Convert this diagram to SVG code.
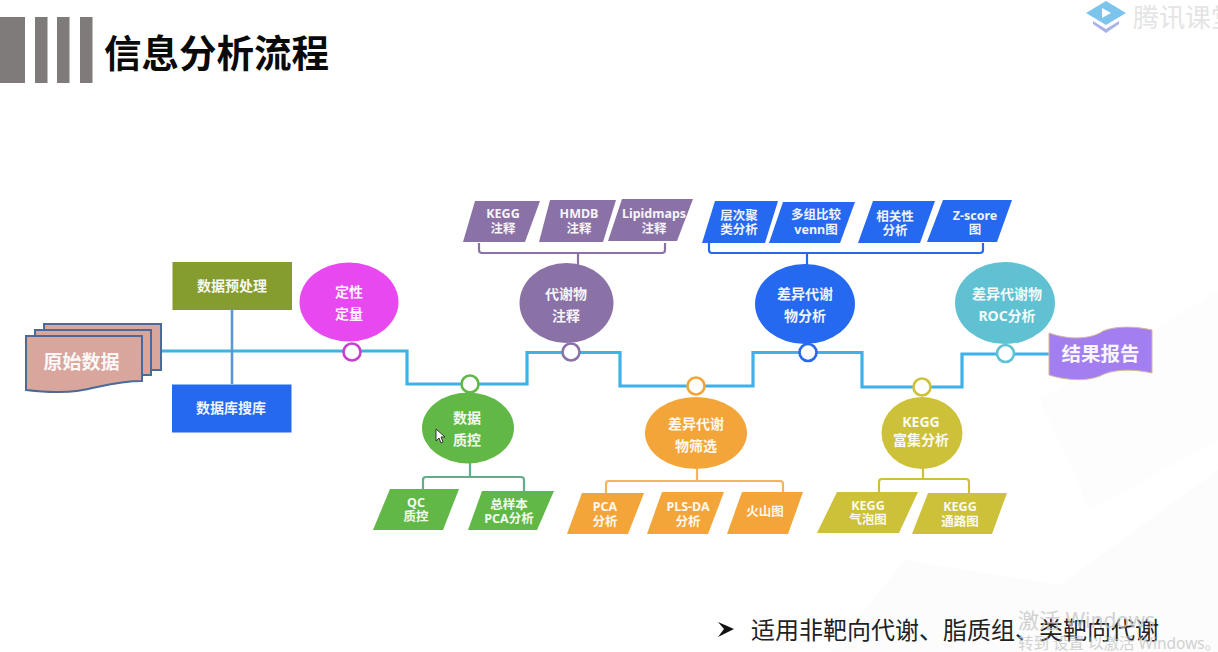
<svg xmlns="http://www.w3.org/2000/svg" width="1218" height="652" viewBox="0 0 1218 652">
<style>
text{font-family:"Noto Sans","Noto Sans CJK SC",sans-serif;text-anchor:middle;dominant-baseline:central}
.w{fill:#fff;font-weight:700;opacity:.93}
.s{font-size:12.5px;transform:translateY(-1px)}
.m{font-size:14px;transform:translateY(-1.5px)}
.b{font-size:19.5px}
.main{fill:none;stroke:#3fb0e8;stroke-width:3.2;stroke-linejoin:miter}
.br{fill:none;stroke-width:2.2}
.dot{fill:#fff;stroke-width:2.6}
.purple{fill:#8a72a6}.blue{fill:#2469f0}.green{fill:#62b846}.orange{fill:#f3a53a}.yellow{fill:#cdc13a}
</style>
<rect width="1218" height="652" fill="#fff"/>
<g id="background" fill="#f7f9f7">
<path d="M830 652 L905 560 L1060 585 L1218 470 L1218 652 Z" opacity=".45"/>
<path d="M1040 400 L1218 290 L1218 440 L1090 510 Z" opacity=".35"/>
</g>
<g id="header">
<rect x="0" y="17" width="25" height="66" fill="#807b7b"/>
<rect x="35" y="17" width="12.5" height="66" fill="#807b7b"/>
<rect x="57" y="17" width="12.5" height="66" fill="#807b7b"/>
<rect x="80" y="17" width="12.5" height="66" fill="#807b7b"/>
<text x="216.500" y="50" style="font-size:37.500px;font-weight:700;font-family:'Noto Sans CJK SC',sans-serif" fill="#0a0a0a">信息分析流程</text>
</g>
<g id="logo">
<path d="M1086 13 L1106 1 L1126 13 L1106 25 Z" fill="#7cc4ec"/>
<path d="M1093 21 L1106 29 L1119 21 L1119 24 L1106 33 L1093 24 Z" fill="#aab3e6"/>
<path d="M1102 8 L1111 13 L1102 18 Z" fill="#fff"/>
<text x="1133" y="15" style="font-size:26px;text-anchor:start;font-family:'Noto Sans CJK SC',sans-serif" fill="#e4e4e4">腾讯课堂</text>
</g>
<g id="connectors">
<path class="main" d="M160 351 H407 V384 H527 V352.500 H620 V386 H753 V352.500 H862 V387 H962 V354 H1049"/>
<path d="M232 310 V384" fill="none" stroke="#5b96d6" stroke-width="2.600"/>
<path class="br" stroke="#8a72a6" d="M479 243 V250 Q479 253 482 253 H662 Q665 253 665 250 V243 M578 253 V265"/>
<path class="br" stroke="#2469f0" d="M709 243 V250 Q709 253 712 253 H980 Q983 253 983 250 V243 M807 253 V265"/>
<path class="br" stroke="#62ad8a" d="M423 490 V480 Q423 477 426 477 H521 Q524 477 524 480 V491 M470 463 V477"/>
<path class="br" stroke="#f3b55a" d="M606 493 V484 Q606 481 609 481 H780 Q783 481 783 484 V492 M697 469 V481"/>
<path class="br" stroke="#cdc13a" d="M879 492 V482 Q879 479 882 479 H966 Q969 479 969 482 V493 M923 468 V479"/>
</g>
<g id="raw-data">
<rect x="44" y="324" width="117" height="46" fill="#d9a69d" stroke="#4a6a9a" stroke-width="2"/>
<rect x="35" y="330" width="116" height="45" fill="#d9a69d" stroke="#4a6a9a" stroke-width="2"/>
<path d="M26 336 H142 V381 C105 381 90 393 55 392 C45 392 35 391 26 390 Z" fill="#d9a69d" stroke="#4a6a9a" stroke-width="2"/>
<text class="w" x="81.500" y="361.500" style="font-size:19px">原始数据</text>
</g>
<g id="preprocess">
<rect x="172.500" y="262" width="119.500" height="48" fill="#859c2f"/>
<text class="w m" x="232" y="286.500">数据预处理</text>
</g>
<g id="db-search">
<rect x="172" y="384.500" width="119.500" height="48" fill="#2469f0"/>
<text class="w m" x="231" y="409">数据库搜库</text>
</g>
<g id="qualitative">
<ellipse cx="349" cy="302" rx="49.500" ry="39.500" fill="#e848f0"/>
<circle class="dot" cx="352" cy="352" r="8.500" stroke="#c840d0"/>
<text class="w m" x="349" y="293">定性</text>
<text class="w m" x="349" y="315">定量</text>
</g>
<g id="qc">
<ellipse cx="468" cy="428" rx="46" ry="35.500" fill="#62b846"/>
<circle class="dot" cx="470" cy="384" r="8.500" stroke="#62b846"/>
<text class="w m" x="467" y="419">数据</text>
<text class="w m" x="467" y="441">质控</text>
</g>
<g id="qc-a">
<polygon class="green" points="390,489 459,489 443,530 373,530"/>
<text class="w s" x="416" y="503">QC</text>
<text class="w s" x="416" y="517">质控</text>
</g>
<g id="qc-b">
<polygon class="green" points="482,491 554,491 537,530 468,530"/>
<text class="w s" x="509" y="505">总样本</text>
<text class="w s" x="509" y="519">PCA分析</text>
</g>
<g id="annotation">
<ellipse cx="566.500" cy="303" rx="47" ry="40" fill="#8a72a6"/>
<circle class="dot" cx="571" cy="352" r="8.500" stroke="#8a72a6"/>
<text class="w m" x="566" y="295">代谢物</text>
<text class="w m" x="566" y="317">注释</text>
</g>
<g id="ann-kegg">
<polygon class="purple" points="475,201 540,201 525,242 463,242"/>
<text class="w s" x="503" y="214">KEGG</text>
<text class="w s" x="503" y="229">注释</text>
</g>
<g id="ann-hmdb">
<polygon class="purple" points="550,200 616,200 603,242 539,242"/>
<text class="w s" x="579" y="214">HMDB</text>
<text class="w s" x="579" y="229">注释</text>
</g>
<g id="ann-lipidmaps">
<polygon class="purple" points="622,199 693,199 677,241 608,241"/>
<text class="w s" x="654" y="214">Lipidmaps</text>
<text class="w s" x="654" y="229">注释</text>
</g>
<g id="screening">
<ellipse cx="696" cy="433" rx="51" ry="36" fill="#f3a53a"/>
<circle class="dot" cx="696" cy="386" r="8.500" stroke="#f3a53a"/>
<text class="w m" x="696" y="425">差异代谢</text>
<text class="w m" x="696" y="447">物筛选</text>
</g>
<g id="scr-pca">
<polygon class="orange" points="582,493 644,493 628,534 567,534"/>
<text class="w s" x="605" y="507">PCA</text>
<text class="w s" x="605" y="522">分析</text>
</g>
<g id="scr-plsda">
<polygon class="orange" points="662,492 724,492 708,534 647,534"/>
<text class="w s" x="688" y="507">PLS-DA</text>
<text class="w s" x="688" y="522">分析</text>
</g>
<g id="scr-volcano">
<polygon class="orange" points="742,492 803,492 788,534 727,534"/>
<text class="w s" x="765" y="512">火山图</text>
</g>
<g id="diff-analysis">
<ellipse cx="805" cy="304" rx="50" ry="40" fill="#2469f0"/>
<circle class="dot" cx="808" cy="352.500" r="8.500" stroke="#2469f0"/>
<text class="w m" x="805" y="295">差异代谢</text>
<text class="w m" x="805" y="317">物分析</text>
</g>
<g id="diff-cluster">
<polygon class="blue" points="715,201 778,201 765,243 702,243"/>
<text class="w s" x="739" y="216">层次聚</text>
<text class="w s" x="739" y="230">类分析</text>
</g>
<g id="diff-venn">
<polygon class="blue" points="783,202 855,202 840,243 769,243"/>
<text class="w s" x="816" y="215">多组比较</text>
<text class="w s" x="816" y="230">venn图</text>
</g>
<g id="diff-corr">
<polygon class="blue" points="873,201 935,201 920,243 858,243"/>
<text class="w s" x="895" y="217">相关性</text>
<text class="w s" x="895" y="231">分析</text>
</g>
<g id="diff-zscore">
<polygon class="blue" points="943,200 1012,200 997,242 927,242"/>
<text class="w s" x="975" y="216">Z-score</text>
<text class="w s" x="975" y="230">图</text>
</g>
<g id="kegg">
<ellipse cx="922" cy="433" rx="40.500" ry="36" fill="#cdc13a"/>
<circle class="dot" cx="922" cy="387" r="8.500" stroke="#cdc13a"/>
<text class="w m" x="921" y="423">KEGG</text>
<text class="w m" x="921" y="441">富集分析</text>
</g>
<g id="kegg-bubble">
<polygon class="yellow" points="837,492 918,492 899,533 817,533"/>
<text class="w s" x="868" y="506">KEGG</text>
<text class="w s" x="868" y="520">气泡图</text>
</g>
<g id="kegg-pathway">
<polygon class="yellow" points="928,493 1007,493 992,534 912,534"/>
<text class="w s" x="960" y="507">KEGG</text>
<text class="w s" x="960" y="522">通路图</text>
</g>
<g id="roc">
<ellipse cx="1005" cy="303" rx="50" ry="41" fill="#5fc1d2"/>
<circle class="dot" cx="1005.500" cy="353.500" r="8.500" stroke="#5fc1d2"/>
<text class="w m" x="1007" y="295">差异代谢物</text>
<text class="w m" x="1007" y="317">ROC分析</text>
</g>
<g id="report">
<path d="M1049 333 C1075 342 1095 337 1103 331 C1115 326 1135 326 1152 330 L1152 373 C1130 368 1110 370 1100 376 C1085 382 1065 380 1049 375 Z" fill="#a27ef0" stroke="#d8b8a0" stroke-width="1"/>
<text class="w b" x="1100.500" y="353">结果报告</text>
</g>
<g id="note">
<path d="M718 622 L734 629 L718 637 L724 629 Z" fill="#111"/>
<text x="955" y="628.500" style="font-size:24px;font-family:'Noto Sans CJK SC',sans-serif" fill="#222">适用非靶向代谢、脂质组、类靶向代谢</text>
</g>
<g id="watermark" fill="#c4c4c4" opacity=".75">
<text x="1018" y="620" style="font-size:21px;text-anchor:start">激活 Windows</text>
<text x="1018" y="643" style="font-size:15.500px;text-anchor:start">转到 设置 以激活 Windows。</text>
</g>
<path id="cursor" d="M436 429 L436 441 L439 438 L441 443 L443 442 L441 437 L445 437 Z" fill="#fff" stroke="#333" stroke-width="1"/>
</svg>
